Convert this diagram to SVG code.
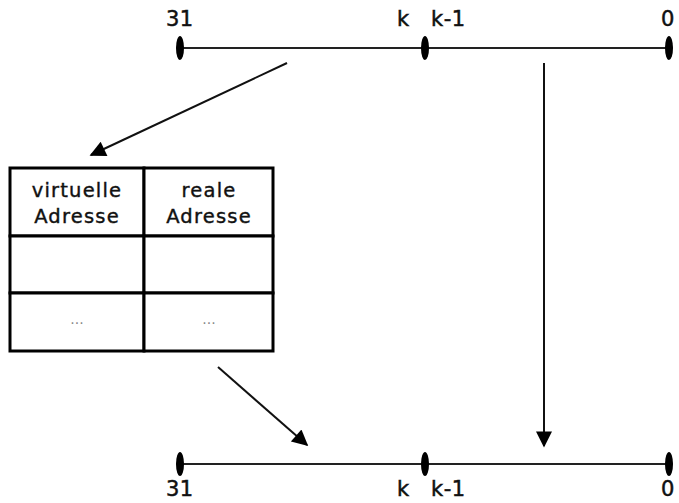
<svg xmlns="http://www.w3.org/2000/svg" width="679" height="503" viewBox="0 0 679 503">
<style>
.lbl{font-family:"DejaVu Sans",Verdana,sans-serif;font-size:21px;fill:#111;stroke:#111;stroke-width:0.5;letter-spacing:0.5px;}
.hdr{font-family:"DejaVu Sans",Verdana,sans-serif;font-size:19.5px;fill:#111;stroke:#111;stroke-width:0.4;letter-spacing:1.2px;text-anchor:middle;}
.dots{font-family:"DejaVu Sans",sans-serif;font-size:14px;fill:#888;text-anchor:middle;}
.bar{stroke:#222;stroke-width:2;}
.tick{fill:#000;}
.cell{fill:#fff;stroke:#000;stroke-width:3;}
.conn{stroke:#111;stroke-width:2;fill:none;marker-end:url(#ah);}
</style>
<defs>
<marker id="ah" viewBox="0 0 10 10" refX="9" refY="5" markerWidth="9" markerHeight="8" markerUnits="strokeWidth" orient="auto">
<path d="M0,0 L10,5 L0,10 z" fill="#000"/>
</marker>
</defs>
<rect width="679" height="503" fill="#fff"/>
<g id="top-register">
<line class="bar" x1="180" y1="48" x2="669" y2="48"/>
<ellipse class="tick" cx="180" cy="48" rx="4" ry="12"/>
<ellipse class="tick" cx="425" cy="48" rx="4" ry="12"/>
<ellipse class="tick" cx="669" cy="48" rx="4" ry="12"/>
<text class="lbl" x="166" y="26">31</text>
<text class="lbl" x="397" y="26">k</text>
<text class="lbl" x="431" y="26">k-1</text>
<text class="lbl" x="661" y="26">0</text>
</g>
<g id="table">
<rect class="cell" x="10" y="168" width="134" height="68"/>
<rect class="cell" x="144" y="168" width="129" height="68"/>
<rect class="cell" x="10" y="236" width="134" height="57"/>
<rect class="cell" x="144" y="236" width="129" height="57"/>
<rect class="cell" x="10" y="293" width="134" height="58"/>
<rect class="cell" x="144" y="293" width="129" height="58"/>
<text class="hdr" x="77" y="197">virtuelle</text>
<text class="hdr" x="77" y="223">Adresse</text>
<text class="hdr" x="209" y="197">reale</text>
<text class="hdr" x="209" y="223">Adresse</text>
<text class="dots" x="77" y="324">...</text>
<text class="dots" x="209" y="324">...</text>
</g>
<g id="bottom-register">
<line class="bar" x1="180" y1="464" x2="669" y2="464"/>
<ellipse class="tick" cx="180" cy="464" rx="4" ry="12"/>
<ellipse class="tick" cx="425" cy="464" rx="4" ry="12"/>
<ellipse class="tick" cx="669" cy="464" rx="4" ry="12"/>
<text class="lbl" x="166" y="496">31</text>
<text class="lbl" x="397" y="496">k</text>
<text class="lbl" x="431" y="496">k-1</text>
<text class="lbl" x="661" y="496">0</text>
</g>
<g id="connectors">
<line class="conn" x1="287" y1="63" x2="91" y2="155"/>
<line class="conn" x1="218" y1="367" x2="307" y2="445"/>
<line class="conn" x1="544" y1="63" x2="544" y2="446"/>
</g>
</svg>
